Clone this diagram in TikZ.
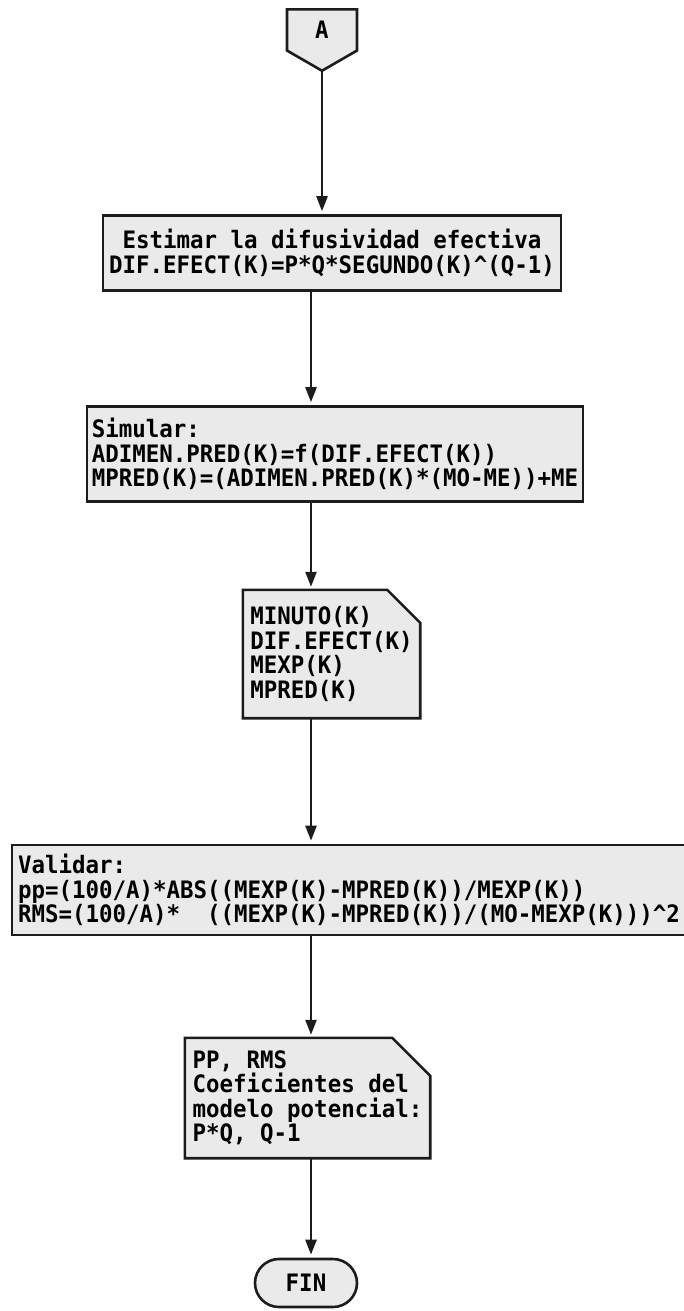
\documentclass[tikz,border=0pt]{standalone}
\usepackage{fontspec}
\newfontfamily\dotfont{DejaVu Sans Mono}[FakeStretch=0.935]
\usetikzlibrary{arrows.meta,positioning,shapes.misc,shapes.symbols,backgrounds}
\definecolor{ink}{HTML}{1C1C1C}
\definecolor{boxfill}{HTML}{EAEAEA}
\tikzset{
  flow/.style={-{Triangle[length=15pt,width=11pt]},line width=2.4pt,ink,shorten >=3pt},
  dottext/.style={font=\dotfont\bfseries\fontsize{24}{24.5}\selectfont},
  box/.style={dottext,draw=ink,line width=2.6pt,fill=boxfill,inner xsep=5pt,inner ysep=8pt},
  card/.style={dottext,align=left,inner xsep=5pt},
  cardline/.style={draw=ink,line width=2.6pt,fill=boxfill,line join=miter},
  conn/.style={box,signal,signal to=south,signal from=nowhere,signal pointer angle=120,
    minimum width=70pt,minimum height=45pt,inner sep=0pt},
  term/.style={box,rounded rectangle,minimum width=112pt,minimum height=48pt}
}

\begin{document}
\begin{tikzpicture}[x=1pt,y=-1pt]
\useasboundingbox (0,0) rectangle (684,1311);
\coordinate (col) at (311,0);
\node[conn] (a) at (322,30) {A};
\node[box,align=center,minimum width=458pt,minimum height=75pt] (est) at (332,253)
  {Estimar la difusividad efectiva\\DIF.EFECT(K)=P*Q*SEGUNDO(K)\^{}(Q-1)};
\node[box,align=left,minimum width=496pt,minimum height=95pt] (sim) at (335,454)
  {Simular:\\ADIMEN.PRED(K)=f(DIF.EFECT(K))\\MPRED(K)=(ADIMEN.PRED(K)*(MO-ME))+ME};
\node[card,minimum width=177pt,minimum height=128pt] (out1) at (331.5,654)
  {MINUTO(K)\\DIF.EFECT(K)\\MEXP(K)\\MPRED(K)};
\node[box,align=left,text width=700pt,inner xsep=6pt,minimum height=90pt] (val) at (368,890)
  {Validar:\\pp=(100/A)*ABS((MEXP(K)-MPRED(K))/MEXP(K))\\RMS=(100/A)*\phantom{xx}((MEXP(K)-MPRED(K))/(MO-MEXP(K)))\^{}2};
\node[card,minimum width=245pt,minimum height=120pt] (out2) at (307.5,1098)
  {PP, RMS\\Coeficientes del\\modelo potencial:\\P*Q, Q-1};
\node[term] (fin) at (306,1283) {FIN};
% document outlines with the cut corner
\begin{scope}[on background layer]
\path[cardline] (out1.south west) -- (out1.north west) -- ([xshift=-33pt]out1.north east)
  -- ([yshift=-33pt]out1.north east) -- (out1.south east) -- cycle;
\path[cardline] (out2.south west) -- (out2.north west) -- ([xshift=-38pt]out2.north east)
  -- ([yshift=-38pt]out2.north east) -- (out2.south east) -- cycle;
\end{scope}
\draw[flow] (a.south) -- (a.south |- est.north);
\draw[flow] (est.south -| col) -- (sim.north -| col);
\draw[flow] (sim.south -| col) -- (out1.north -| col);
\draw[flow] (out1.south -| col) -- (val.north -| col);
\draw[flow] (val.south -| col) -- (out2.north -| col);
\draw[flow] (out2.south -| col) -- (fin.north -| col);
\end{tikzpicture}
\end{document}
